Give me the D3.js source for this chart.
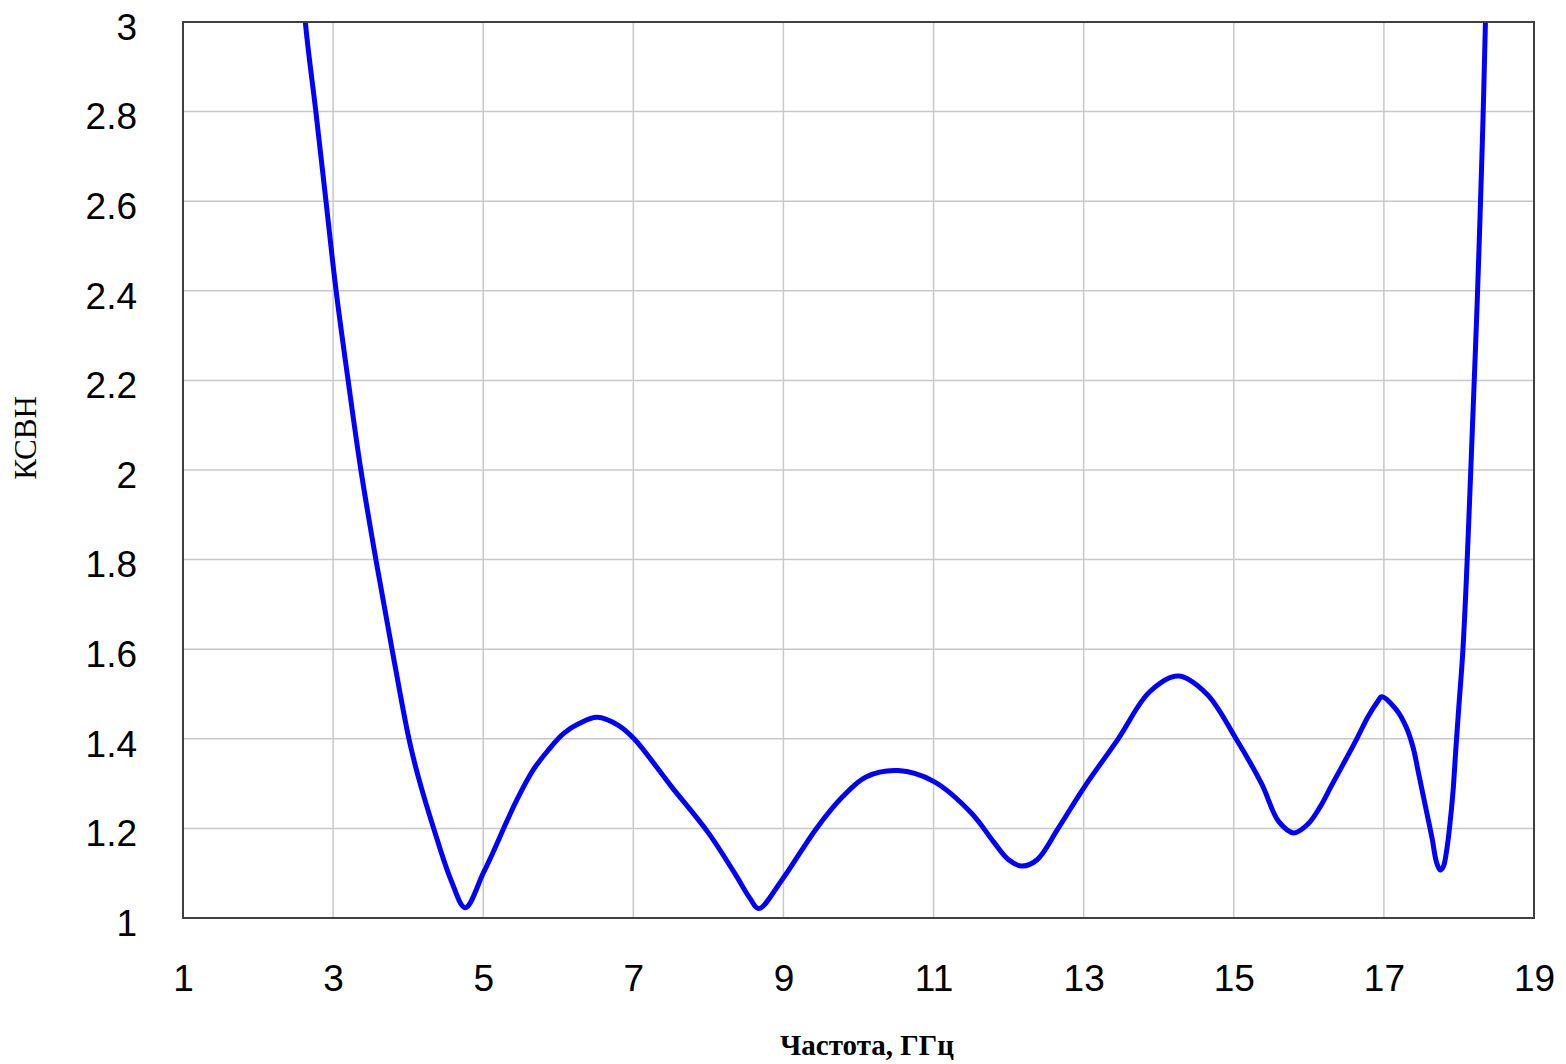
<!DOCTYPE html>
<html>
<head>
<meta charset="utf-8">
<script src="https://cdn.jsdelivr.net/npm/d3@7"></script>
<style>
  html, body { margin: 0; padding: 0; background: #fff; }
  svg { display: block; }
</style>
</head>
<body>
<svg id="chart" width="1566" height="1064"></svg>
<script>
// VSWR vs frequency
const freqGHz = [2.55, 2.63, 2.77, 2.905, 3.04, 3.20, 3.37, 3.57, 3.785, 4.01, 4.135, 4.34, 4.57, 4.76,
  5.00, 5.154, 5.307, 5.461, 5.664, 5.868, 6.072, 6.276, 6.52,
  6.80, 7.01, 7.50, 8.00, 8.35, 8.55, 8.67,
  8.98, 9.44, 9.79, 10.10, 10.53, 11.00, 11.50, 11.80, 12.00, 12.18, 12.38,
  12.66, 13.00, 13.46, 13.88, 14.26, 14.64, 15.03, 15.37, 15.60, 15.80,
  15.99, 16.15, 16.30, 16.44, 16.57, 16.66, 16.79, 16.92, 16.97,
  17.17, 17.30, 17.39, 17.46, 17.55, 17.64, 17.70, 17.75,
  17.79, 17.84, 17.88, 17.92, 17.96, 18.00, 18.05,
  18.10, 18.146, 18.19, 18.24, 18.28, 18.32, 18.353, 18.40];
const vswr = [3.2, 3.0, 2.8, 2.6, 2.4, 2.2, 2.0, 1.8, 1.6, 1.4, 1.315, 1.2, 1.085, 1.023,
  1.10, 1.155, 1.213, 1.268, 1.330, 1.375, 1.412, 1.434, 1.448,
  1.43, 1.40, 1.295, 1.19, 1.10, 1.045, 1.021,
  1.085, 1.2, 1.271, 1.315, 1.329, 1.305, 1.235, 1.17, 1.13, 1.116, 1.13,
  1.2, 1.29, 1.4, 1.505, 1.54, 1.5, 1.4, 1.3, 1.215, 1.19,
  1.21, 1.248, 1.295, 1.338, 1.378, 1.407, 1.45, 1.484, 1.494,
  1.464, 1.425, 1.38, 1.325, 1.252, 1.18, 1.125, 1.107,
  1.114, 1.155, 1.21, 1.28, 1.38, 1.475, 1.59,
  1.76, 1.95, 2.14, 2.36, 2.56, 2.78, 3.0, 3.3];

const xTicks = [1, 3, 5, 7, 9, 11, 13, 15, 17, 19];
const yTicks = [1, 1.2, 1.4, 1.6, 1.8, 2, 2.2, 2.4, 2.6, 2.8, 3];
const xTitle = "Частота, ГГц";
const yTitle = "КСВН";

const margin = { left: 183, top: 22, right: 1566 - 1534, bottom: 1064 - 918 };
const width = 1566 - margin.left - margin.right;
const height = 1064 - margin.top - margin.bottom;

const svg = d3.select("#chart");
const g = svg.append("g").attr("transform", `translate(${margin.left},${margin.top})`);

const x = d3.scaleLinear().domain([1, 19]).range([0, width]);
const y = d3.scaleLinear().domain([1, 3]).range([height, 0]);

// grid
g.append("g").attr("class", "grid-x")
  .selectAll("line").data(xTicks.slice(1, -1)).join("line")
  .attr("x1", d => x(d)).attr("x2", d => x(d))
  .attr("y1", 0).attr("y2", height)
  .attr("stroke", "#c8c8c8").attr("stroke-width", 1.5);
g.append("g").attr("class", "grid-y")
  .selectAll("line").data(yTicks.slice(1, -1)).join("line")
  .attr("x1", 0).attr("x2", width)
  .attr("y1", d => y(d)).attr("y2", d => y(d))
  .attr("stroke", "#c8c8c8").attr("stroke-width", 1.5);

// axes (labels only; frame drawn separately)
const xAxis = g.append("g").attr("transform", `translate(0,${height})`)
  .call(d3.axisBottom(x).tickValues(xTicks).tickSize(0).tickPadding(0).tickFormat(d3.format("d")));
const yAxis = g.append("g")
  .call(d3.axisLeft(y).tickValues(yTicks).tickSize(0).tickPadding(0).tickFormat(d => String(d)));
[xAxis, yAxis].forEach(a => {
  a.select(".domain").remove();
  a.selectAll("text")
    .attr("font-family", "'Liberation Sans', Arial, sans-serif")
    .attr("font-size", 37)
    .attr("fill", "#000");
});
xAxis.selectAll("text").attr("dy", null).attr("y", 0)
  .attr("dominant-baseline", "alphabetic")
  .attr("transform", "translate(0,73)");
yAxis.selectAll("text").attr("x", -46).attr("dy", "0.36em")
  .attr("transform", "translate(0,4)");

// curve, clipped to plot area
svg.append("defs").append("clipPath").attr("id", "plot-clip")
  .append("rect").attr("width", width).attr("height", height);

const pts = freqGHz.map((f, i) => [f, vswr[i]]);
const line = d3.line()
  .x(d => x(d[0])).y(d => y(d[1]))
  .curve(d3.curveCatmullRom.alpha(0.5));
g.append("path").datum(pts)
  .attr("clip-path", "url(#plot-clip)")
  .attr("fill", "none").attr("stroke", "#0000ff")
  .attr("stroke-width", 5).attr("stroke-linejoin", "round")
  .attr("d", line);

// frame
g.append("rect").attr("width", width).attr("height", height)
  .attr("fill", "none").attr("stroke", "#404040").attr("stroke-width", 2);

// titles
svg.append("text")
  .attr("x", 867).attr("y", 1055)
  .attr("text-anchor", "middle")
  .attr("font-family", "'Liberation Serif', 'Times New Roman', serif")
  .attr("font-weight", "bold").attr("font-size", 29)
  .text(xTitle);
svg.append("text")
  .attr("transform", "translate(36,438) rotate(-90)")
  .attr("text-anchor", "middle")
  .attr("font-family", "'Liberation Serif', 'Times New Roman', serif")
  .attr("font-size", 31)
  .text(yTitle);
</script>
</body>
</html>
